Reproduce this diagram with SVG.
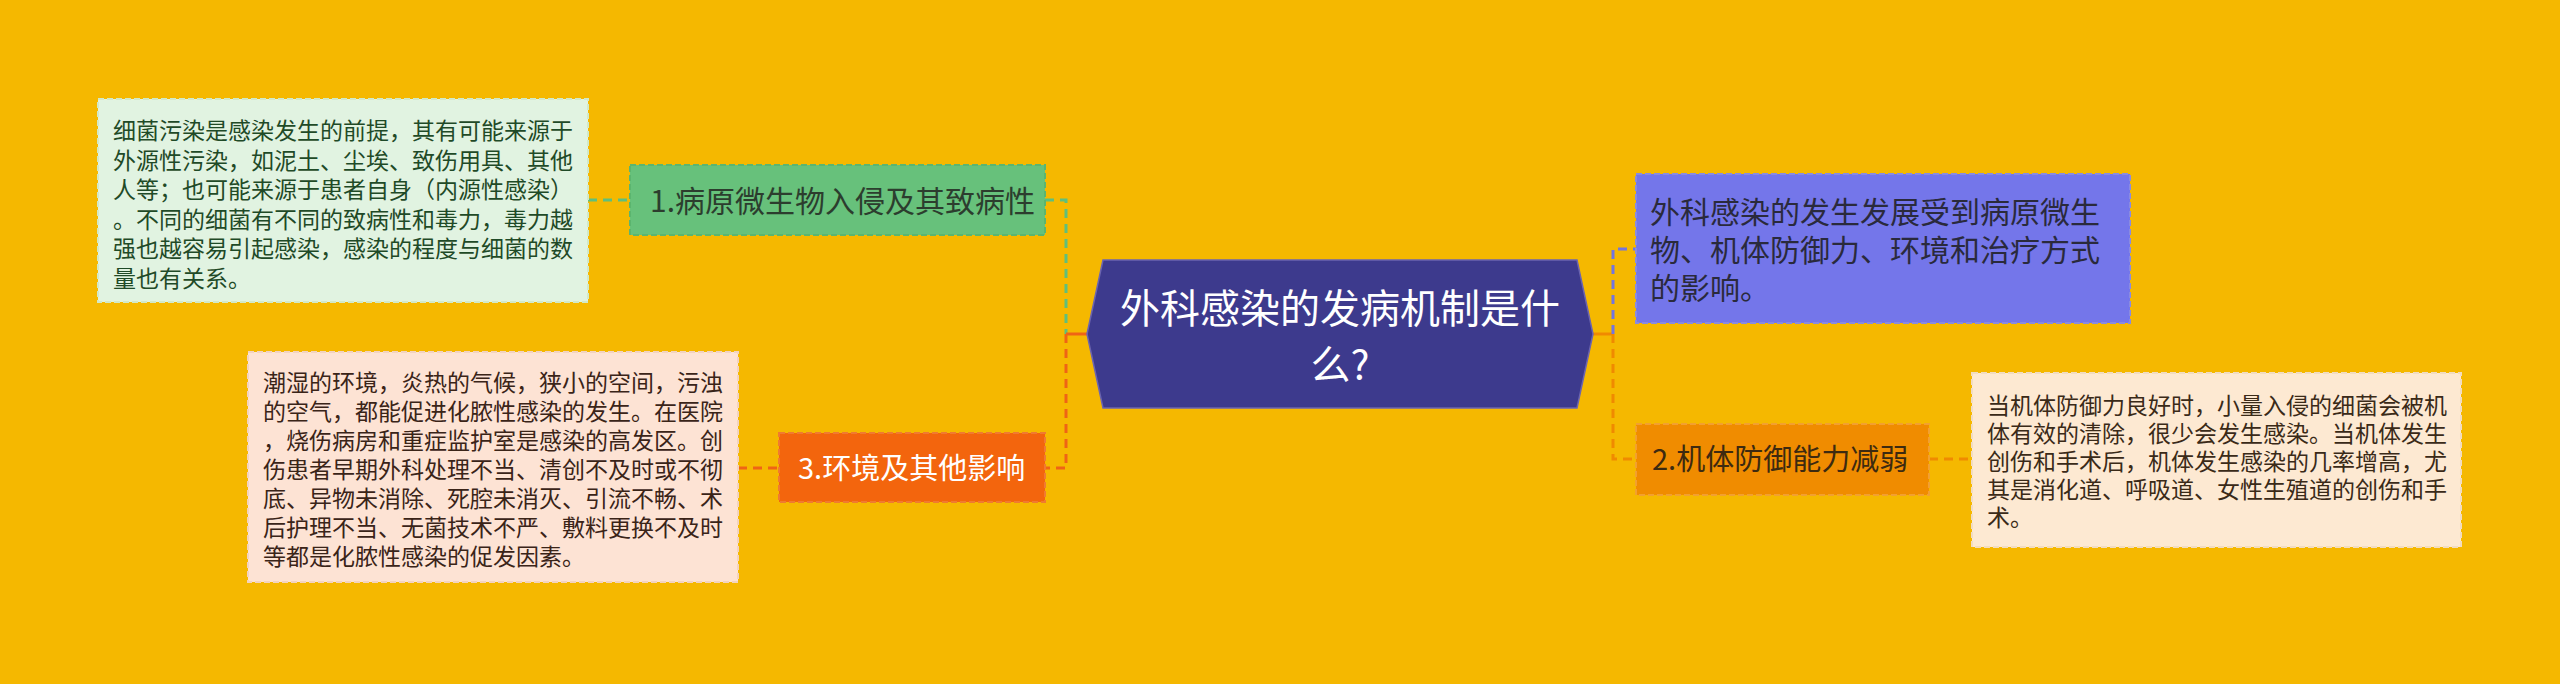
<svg xmlns="http://www.w3.org/2000/svg" width="2560" height="684" viewBox="0 0 2560 684">
<style>
text{font-family:"Noto Sans CJK SC","Noto Sans",sans-serif;}
.conn{fill:none;stroke-width:3;stroke-dasharray:9 6;}
.solid{fill:none;stroke-width:3;}
.box{stroke-width:2;stroke-dasharray:6 3;}
.d{font-size:23px;}
</style>
<rect x="0" y="0" width="2560" height="684" fill="#f5b800"/>
<g id="connectors">
<path class="conn" stroke="#5fbf7c" d="M588,200 H630"/>
<path class="conn" stroke="#5fbf7c" d="M1045,200 H1066 V334"/>
<path class="solid" stroke="#ef6415" d="M1066,334 H1087"/>
<path class="conn" stroke="#ef6415" d="M1066,334 V468 H1045"/>
<path class="conn" stroke="#ef6415" d="M738,468 H779"/>
<path class="solid" stroke="#f08a00" d="M1593,334 H1613"/>
<path class="conn" stroke="#7275e0" d="M1613,334 V249 H1636"/>
<path class="conn" stroke="#f08a00" d="M1613,334 V459 H1637"/>
<path class="conn" stroke="#f08a00" d="M1929,459 H1972"/>
</g>
<g id="root">
<polygon points="1087,334 1103,260 1577,260 1593,334 1577,408 1103,408" fill="#3d3a8d" stroke="#6b64b0" stroke-width="1.5"/>
<text x="1340" y="323" font-size="40" fill="#ffffff" text-anchor="middle">外科感染的发病机制是什</text>
<text x="1340" y="379" font-size="40" fill="#ffffff" text-anchor="middle">么?</text>
</g>
<g id="node1">
<rect class="box" x="630" y="165" width="415" height="70" fill="#67c17b" stroke="#5bb56f"/>
<text x="650" y="212" font-size="30" fill="#2c3d2e">1.病原微生物入侵及其致病性</text>
</g>
<g id="detail1">
<rect class="box" x="98" y="99" width="490" height="203" fill="#e1f3e1" stroke="#d2e9c8"/>
<g class="d" fill="#1f4a27">
<text x="113" y="139">细菌污染是感染发生的前提，其有可能来源于</text>
<text x="113" y="168.5">外源性污染，如泥土、尘埃、致伤用具、其他</text>
<text x="113" y="198">人等；也可能来源于患者自身（内源性感染）</text>
<text x="113" y="227.5">。不同的细菌有不同的致病性和毒力，毒力越</text>
<text x="113" y="257">强也越容易引起感染，感染的程度与细菌的数</text>
<text x="113" y="286.5">量也有关系。</text>
</g>
</g>
<g id="node3">
<rect class="box" x="779" y="433" width="266" height="69" fill="#f3650d" stroke="#f07a30"/>
<text x="798" y="479" font-size="29" fill="#ffffff">3.环境及其他影响</text>
</g>
<g id="detail3">
<rect class="box" x="248" y="352" width="490" height="230" fill="#fde3d4" stroke="#f3d3bf"/>
<g class="d" fill="#3a2418">
<text x="263" y="391">潮湿的环境，炎热的气候，狭小的空间，污浊</text>
<text x="263" y="420">的空气，都能促进化脓性感染的发生。在医院</text>
<text x="263" y="449">，烧伤病房和重症监护室是感染的高发区。创</text>
<text x="263" y="478">伤患者早期外科处理不当、清创不及时或不彻</text>
<text x="263" y="507">底、异物未消除、死腔未消灭、引流不畅、术</text>
<text x="263" y="536">后护理不当、无菌技术不严、敷料更换不及时</text>
<text x="263" y="565">等都是化脓性感染的促发因素。</text>
</g>
</g>
<g id="node4">
<rect class="box" x="1636" y="174" width="494" height="149" fill="#7476ea" stroke="#8a8be0"/>
<g font-size="30" fill="#2a2a3c">
<text x="1650" y="223">外科感染的发生发展受到病原微生</text>
<text x="1650" y="261">物、机体防御力、环境和治疗方式</text>
<text x="1650" y="299">的影响。</text>
</g>
</g>
<g id="node2">
<rect class="box" x="1636" y="424" width="293" height="71" fill="#f08c00" stroke="#f2a030"/>
<text x="1652" y="470" font-size="29" fill="#3d2a10">2.机体防御能力减弱</text>
</g>
<g id="detail2">
<rect class="box" x="1972" y="373" width="489" height="174" fill="#fde9d2" stroke="#f2dcc0"/>
<g class="d" fill="#3a2a18">
<text x="1987" y="414">当机体防御力良好时，小量入侵的细菌会被机</text>
<text x="1987" y="442">体有效的清除，很少会发生感染。当机体发生</text>
<text x="1987" y="470">创伤和手术后，机体发生感染的几率增高，尤</text>
<text x="1987" y="498">其是消化道、呼吸道、女性生殖道的创伤和手</text>
<text x="1987" y="526">术。</text>
</g>
</g>
</svg>
